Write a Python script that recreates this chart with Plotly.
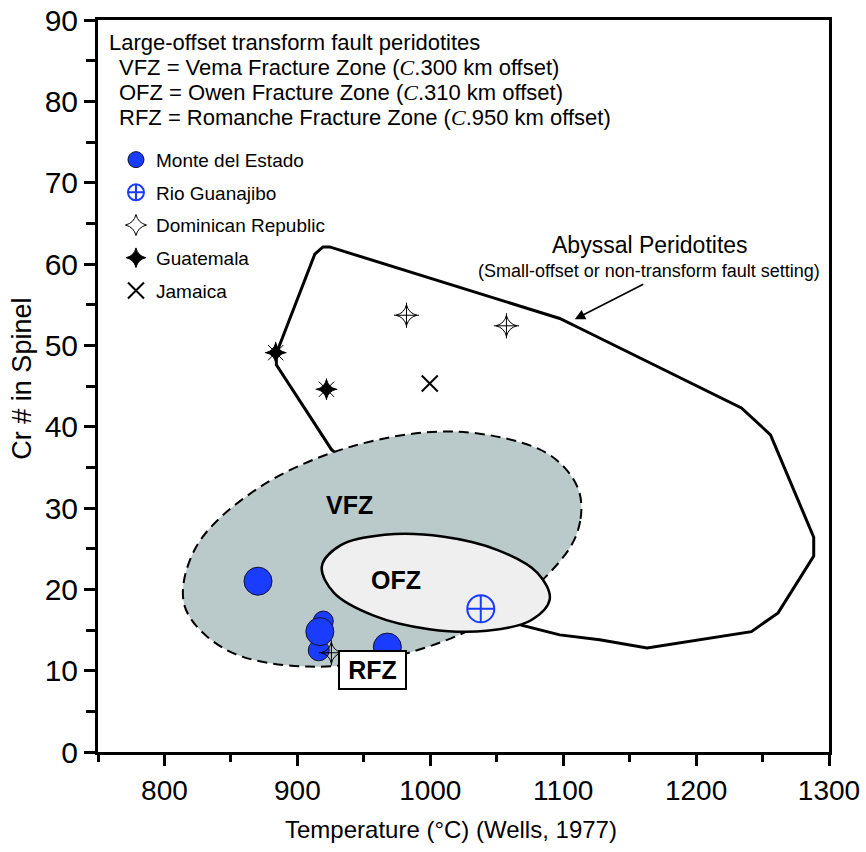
import plotly.graph_objects as go

# ---------------- data ----------------
# Abyssal peridotite field outline (Temperature degC, Cr#)
abyssal_x = [884.2, 913.1, 919.3, 924.3, 1097.4, 1112.5, 1234.1, 1256.0, 1288.5, 1288.5,
             1261.7, 1241.6, 1163.1, 1127.4, 1097.4, 1068.6, 925.6, 889.2, 884.2, 884.2]
abyssal_y = [49.0, 61.2, 62.1, 62.1, 53.3, 52.1, 42.3, 39.0, 26.4, 24.1,
             17.1, 14.8, 12.8, 13.8, 14.4, 15.6, 37.2, 46.2, 47.6, 49.0]

# Vema Fracture Zone field boundary
vfz_x = [1112.2, 1112.8, 1103.4, 1057.1, 985.8, 908.5, 846.1, 815.1, 823.8, 870.2,
         941.4, 1018.7, 1081.1, 1101.4, 1112.2]
vfz_y = [31.9, 28.4, 24.7, 17.5, 12.3, 10.5, 12.6, 18.0, 25.2, 32.4,
         37.6, 39.4, 37.3, 34.9, 31.9]

# Owen Fracture Zone field boundary
ofz_x = [1089.9, 1075.8, 1042.6, 999.2, 957.0, 927.4, 918.4, 932.4, 965.6, 1009.0,
         1051.2, 1080.8, 1089.9]
ofz_y = [18.8, 16.2, 14.9, 15.1, 16.8, 19.6, 22.8, 25.4, 26.7, 26.5,
         24.8, 22.0, 18.8]

# Sample groups
monte_x = [870.4, 919.5, 916.1, 916.9, 967.7]
monte_y = [21.0, 16.1, 12.5, 14.8, 12.9]
monte_size = [28, 20, 21, 28, 28]

rio_x = [1038.0]
rio_y = [17.6]

dominican_x = [982.1, 1057.3, 925.6]
dominican_y = [53.7, 52.4, 12.2]

guatemala_x = [883.7, 921.9]
guatemala_y = [49.1, 44.6]

jamaica_x = [999.6]
jamaica_y = [45.3]

x_tick_vals = [800, 900, 1000, 1100, 1200, 1300]
y_tick_vals = [0, 10, 20, 30, 40, 50, 60, 70, 80, 90]

header_lines = [
    "Large-offset transform fault peridotites",
    "VFZ = Vema Fracture Zone (<i><span style='font-family:Liberation Serif'>C</span></i>.300 km offset)",
    "OFZ = Owen Fracture Zone (<i><span style='font-family:Liberation Serif'>C</span></i>.310 km offset)",
    "RFZ = Romanche Fracture Zone (<i><span style='font-family:Liberation Serif'>C</span></i>.950 km offset)",
]

# ---------------- figure ----------------
FONT = "Liberation Sans, Arial, Helvetica, sans-serif"
BLUE = "#1a3cff"

fig = go.Figure()

fig.add_trace(go.Scatter(x=abyssal_x, y=abyssal_y, mode="lines",
                         line=dict(color="black", width=3),
                         showlegend=False, hoverinfo="skip"))
fig.add_trace(go.Scatter(x=vfz_x, y=vfz_y, mode="lines", fill="toself",
                         fillcolor="#bac9c9", line_shape="spline",
                         line=dict(color="black", width=2, dash="10px,6px"),
                         showlegend=False, hoverinfo="skip"))
fig.add_trace(go.Scatter(x=ofz_x, y=ofz_y, mode="lines", fill="toself",
                         fillcolor="#efefef", line_shape="spline",
                         line=dict(color="black", width=2.5),
                         showlegend=False, hoverinfo="skip"))

fig.add_trace(go.Scatter(x=monte_x, y=monte_y, mode="markers", name="Monte del Estado",
                         legendgroup="a",
                         marker=dict(symbol="circle", size=monte_size, color=BLUE, opacity=1,
                                     line=dict(color="#101030", width=1))))
fig.add_trace(go.Scatter(x=rio_x, y=rio_y, mode="markers", name="Rio Guanajibo",
                         legendgroup="b",
                         marker=dict(symbol="circle-cross-open", size=27, color=BLUE, opacity=1,
                                     line=dict(color=BLUE, width=2))))
fig.add_trace(go.Scatter(x=dominican_x, y=dominican_y, mode="markers", name="Dominican Republic",
                         legendgroup="c",
                         marker=dict(symbol="star-diamond-open", size=15, color="black",
                                     line=dict(color="black", width=1))))
fig.add_trace(go.Scatter(x=dominican_x, y=dominican_y, mode="markers", showlegend=False,
                         legendgroup="c", hoverinfo="skip",
                         marker=dict(symbol="cross-thin-open", size=18, color="black",
                                     line=dict(color="black", width=1))))
fig.add_trace(go.Scatter(x=guatemala_x, y=guatemala_y, mode="markers", name="Guatemala",
                         legendgroup="d",
                         marker=dict(symbol="star-diamond", size=14, color="black",
                                     line=dict(color="black", width=1))))
fig.add_trace(go.Scatter(x=guatemala_x, y=guatemala_y, mode="markers", showlegend=False,
                         legendgroup="d", hoverinfo="skip",
                         marker=dict(symbol="asterisk-open", size=18, color="black",
                                     line=dict(color="black", width=1))))
fig.add_trace(go.Scatter(x=jamaica_x, y=jamaica_y, mode="markers", name="Jamaica",
                         legendgroup="e",
                         marker=dict(symbol="x-thin-open", size=16, color="black",
                                     line=dict(color="black", width=2))))

annotations = []
header_x = [0.012, 0.026, 0.026, 0.026]
header_y = [0.9690, 0.9349, 0.9007, 0.8666]
for txt, hx, hy in zip(header_lines, header_x, header_y):
    annotations.append(dict(xref="paper", yref="paper", x=hx, y=hy, text=txt,
                            showarrow=False, xanchor="left", yanchor="middle",
                            font=dict(family=FONT, size=22, color="black")))

annotations += [
    dict(x=1165, y=62.3, text="Abyssal Peridotites", showarrow=False,
         font=dict(family=FONT, size=23, color="black")),
    dict(x=1164.4, y=59.2, text="(Small-offset or non-transform fault setting)", showarrow=False,
         font=dict(family=FONT, size=18, color="black")),
    dict(x=1108.7, y=53.2, ax=1161.4, ay=57.6, axref="x", ayref="y", text="",
         showarrow=True, arrowhead=2, arrowsize=1.3, arrowwidth=1.6, arrowcolor="black"),
    dict(x=939.4, y=30.4, text="<b>VFZ</b>", showarrow=False,
         font=dict(family=FONT, size=25, color="black")),
    dict(x=974.5, y=21.2, text="<b>OFZ</b>", showarrow=False,
         font=dict(family=FONT, size=25, color="black")),
    dict(x=956.9, y=10.1, text="<b>RFZ</b>", showarrow=False, bgcolor="white",
         bordercolor="black", borderwidth=2, borderpad=4, width=57, height=28,
         font=dict(family=FONT, size=25, color="black")),
    # axis titles
    dict(xref="paper", yref="paper", x=0.4825, y=-0.106, text="Temperature (°C) (Wells, 1977)",
         showarrow=False, xanchor="center", yanchor="middle",
         font=dict(family=FONT, size=24, color="black")),
    dict(xref="paper", yref="paper", x=-0.104, y=0.51, text="Cr # in Spinel", textangle=-90,
         showarrow=False, xanchor="center", yanchor="middle",
         font=dict(family=FONT, size=27, color="black")),
]

fig.update_layout(
    width=866, height=852,
    margin=dict(l=98, r=37, t=20, b=100),
    paper_bgcolor="white", plot_bgcolor="white",
    font=dict(family=FONT, color="black"),
    showlegend=True,
    legend=dict(x=0.0246, y=0.835, xanchor="left", yanchor="top",
                font=dict(family=FONT, size=19, color="black"),
                bgcolor="rgba(0,0,0,0)", borderwidth=0,
                tracegroupgap=5, traceorder="grouped", itemsizing="trace"),
    annotations=annotations,
)

fig.update_xaxes(range=[750, 1300], tickmode="array", tickvals=x_tick_vals, automargin=False,
                 ticks="outside", ticklen=11, tickwidth=2.5, tickcolor="black",
                 minor=dict(dtick=50, tick0=750, ticks="outside", ticklen=7,
                            tickwidth=2.5, tickcolor="black"),
                 showline=True, linewidth=3, linecolor="black", mirror=True,
                 showgrid=False, zeroline=False,
                 tickfont=dict(family=FONT, size=28, color="black"))
fig.update_yaxes(range=[0, 90], tickmode="array", tickvals=y_tick_vals, automargin=False,
                 ticks="outside", ticklen=11, tickwidth=2.5, tickcolor="black",
                 minor=dict(dtick=5, tick0=0, ticks="outside", ticklen=9,
                            tickwidth=2.5, tickcolor="black"),
                 showline=True, linewidth=3, linecolor="black", mirror=True,
                 showgrid=False, zeroline=False,
                 tickfont=dict(family=FONT, size=30, color="black"))

fig.write_html("out.html", config={"displayModeBar": False},
               post_script="document.body.style.margin='0px';document.body.style.padding='0px';")
